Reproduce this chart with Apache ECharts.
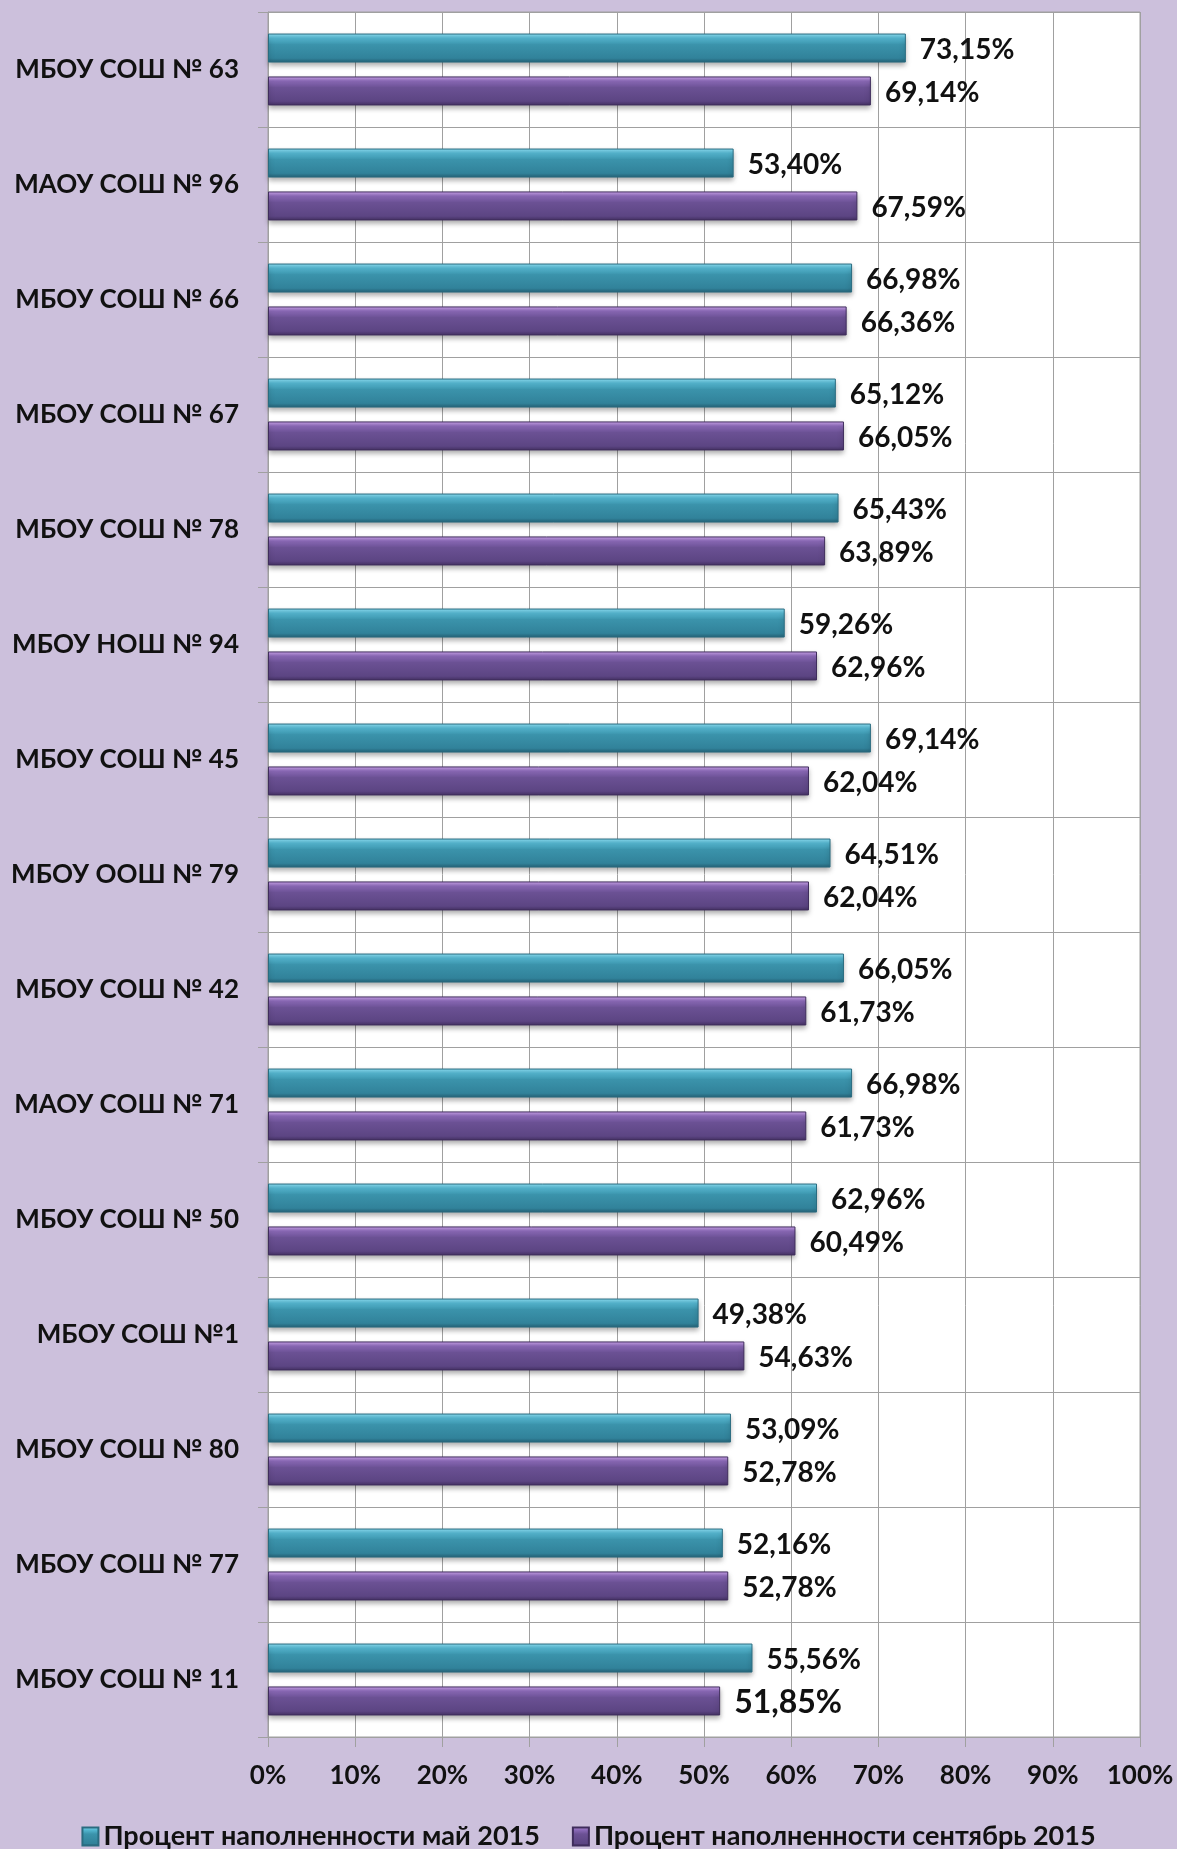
<!DOCTYPE html>
<html>
<head>
<meta charset="utf-8">
<script src="https://cdn.jsdelivr.net/npm/echarts@6/dist/echarts.min.js"></script>
<style>
  html, body { margin: 0; padding: 0; background: #ccc0dc; }
  #chart { width: 1177px; height: 1849px; }
</style>
</head>
<body>
<div id="chart"></div>
<script>
const schools = [
  "МБОУ СОШ № 63", "МАОУ СОШ № 96", "МБОУ СОШ № 66", "МБОУ СОШ № 67",
  "МБОУ СОШ № 78", "МБОУ НОШ № 94", "МБОУ СОШ № 45", "МБОУ ООШ № 79",
  "МБОУ СОШ № 42", "МАОУ СОШ № 71", "МБОУ СОШ № 50", "МБОУ СОШ №1",
  "МБОУ СОШ № 80", "МБОУ СОШ № 77", "МБОУ СОШ № 11"
];
const may2015 = [73.15, 53.40, 66.98, 65.12, 65.43, 59.26, 69.14, 64.51, 66.05, 66.98, 62.96, 49.38, 53.09, 52.16, 55.56];
const sep2015 = [69.14, 67.59, 66.36, 66.05, 63.89, 62.96, 62.04, 62.04, 61.73, 61.73, 60.49, 54.63, 52.78, 52.78, 51.85];
const seriesNames = ["Процент наполненности май 2015", "Процент наполненности сентябрь 2015"];

const font = "Lato";
const fmt = v => v.toFixed(2).replace(".", ",") + "%";

const cyanFill = new echarts.graphic.LinearGradient(0, 0, 0, 1, [
  { offset: 0, color: "#92e2f6" },
  { offset: 0.16, color: "#56b9d3" },
  { offset: 0.38, color: "#3b93ab" },
  { offset: 0.85, color: "#31829a" },
  { offset: 1, color: "#256175" }
]);
const purpleFill = new echarts.graphic.LinearGradient(0, 0, 0, 1, [
  { offset: 0, color: "#d2a9f2" },
  { offset: 0.16, color: "#8d6bba" },
  { offset: 0.38, color: "#6b5194" },
  { offset: 0.85, color: "#5c4583" },
  { offset: 1, color: "#443163" }
]);

const valueLabel = {
  show: true,
  position: "right",
  distance: 14,
  offset: [0, 2],
  fontFamily: font,
  fontWeight: "bold",
  fontSize: 28,
  color: "#111",
  formatter: p => fmt(p.value)
};

// the last September label is drawn larger in the original
const sepData = sep2015.map((v, i) => {
  if (i === sep2015.length - 1) {
    return { value: v, label: { fontSize: 32 } };
  }
  return v;
});

const chart = echarts.init(document.getElementById("chart"));
chart.setOption({
  backgroundColor: "#ccc0dc",
  animation: false,
  grid: { left: 268, right: 37, top: 12, bottom: 112, backgroundColor: "#ffffff", show: true, borderColor: "#a0a0a0", borderWidth: 1 },
  legend: {
    bottom: -6,
    left: "center",
    itemWidth: 16,
    itemHeight: 18,
    itemGap: 32,
    textStyle: { fontFamily: font, fontWeight: "bold", fontSize: 27, color: "#111" },
    data: seriesNames.map(n => ({ name: n, icon: "rect" }))
  },
  xAxis: {
    type: "value",
    min: 0,
    max: 100,
    interval: 10,
    axisLine: { show: false },
    axisTick: { show: true, length: 10, lineStyle: { color: "#a0a0a0" } },
    splitLine: { show: true, lineStyle: { color: "#a0a0a0", width: 1 } },
    axisLabel: {
      margin: 26,
      fontFamily: font,
      fontWeight: "bold",
      fontSize: 26,
      color: "#111",
      formatter: v => v + "%"
    }
  },
  yAxis: {
    type: "category",
    inverse: true,
    data: schools,
    axisLine: { show: true, lineStyle: { color: "#a0a0a0" } },
    axisTick: { show: true, length: 10, lineStyle: { color: "#a0a0a0" } },
    splitLine: { show: true, lineStyle: { color: "#a0a0a0" } },
    axisLabel: {
      margin: 29,
      fontFamily: font,
      fontWeight: "bold",
      fontSize: 26,
      color: "#111"
    }
  },
  series: [
    {
      name: seriesNames[0],
      type: "bar",
      data: may2015,
      barWidth: 29,
      barGap: "48%",
      itemStyle: {
        color: cyanFill,
        borderColor: "#2a6c80",
        borderWidth: 1,
        shadowColor: "rgba(0,0,0,0.35)",
        shadowBlur: 5,
        shadowOffsetY: 3
      },
      label: valueLabel
    },
    {
      name: seriesNames[1],
      type: "bar",
      data: sepData,
      barWidth: 29,
      itemStyle: {
        color: purpleFill,
        borderColor: "#3f2d5c",
        borderWidth: 1,
        shadowColor: "rgba(0,0,0,0.35)",
        shadowBlur: 5,
        shadowOffsetY: 3
      },
      label: valueLabel
    }
  ]
});
</script>
</body>
</html>
